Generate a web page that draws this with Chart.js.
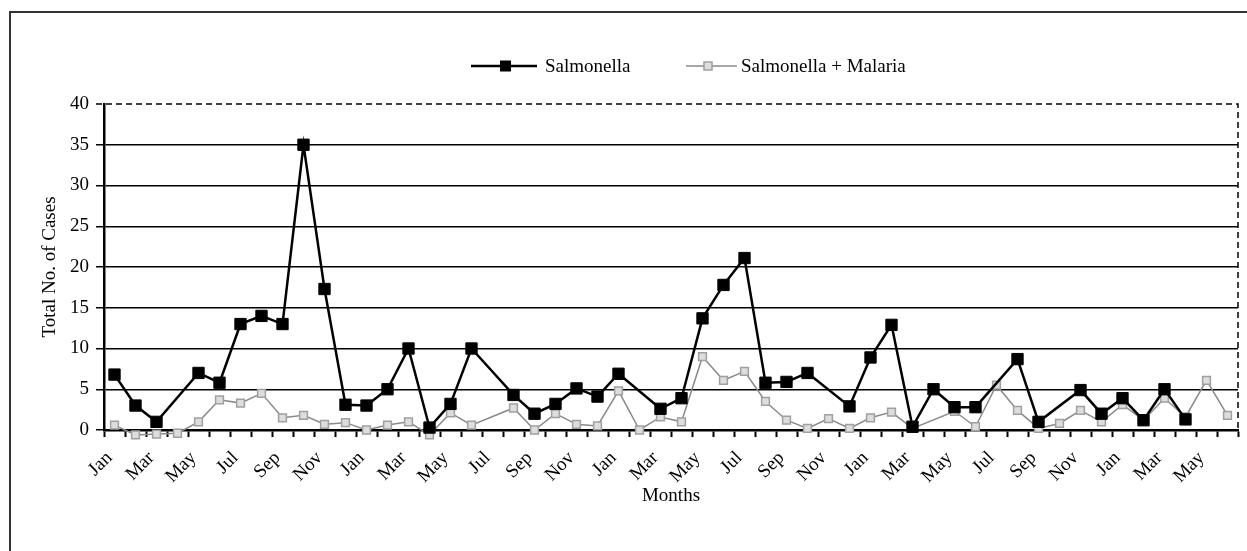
<!DOCTYPE html>
<html>
<head>
<meta charset="utf-8">
<title>Salmonella cases</title>
<script src="https://cdn.jsdelivr.net/npm/chart.js"></script>
<style>
  html, body { margin: 0; padding: 0; background: #fff; }
  #wrap { position: relative; width: 1247px; height: 551px; overflow: hidden; }
  #frame { position: absolute; left: 9px; top: 11px; right: -4px; bottom: -4px;
           border-top: 2px solid #333; border-left: 2px solid #333; pointer-events: none; }
  canvas { position: absolute; left: 0; top: 0; }
</style>
</head>
<body>
<div id="wrap">
  <canvas id="caseChart" width="1247" height="551"></canvas>
  <div id="frame"></div>
</div>
<script>
// months, Jan of year 1 to Jun of year 5
const months = [
  'Jan','Feb','Mar','Apr','May','Jun','Jul','Aug','Sep','Oct','Nov','Dec',
  'Jan','Feb','Mar','Apr','May','Jun','Jul','Aug','Sep','Oct','Nov','Dec',
  'Jan','Feb','Mar','Apr','May','Jun','Jul','Aug','Sep','Oct','Nov','Dec',
  'Jan','Feb','Mar','Apr','May','Jun','Jul','Aug','Sep','Oct','Nov','Dec',
  'Jan','Feb','Mar','Apr','May','Jun'
];

// only every second month gets a label on the axis
const shownMonths = ['Jan','Mar','May','Jul','Sep','Nov'];

const yTicks = [0, 5, 10, 15, 20, 25, 30, 35, 40];

// null = no value that month (line just joins the neighbours)
const salmonella = [
  6.8, 3, 1, null, 7, 5.8, 13, 14, 13, 35, 17.3, 3.1,
  3, 5, 10, 0.3, 3.2, 10, null, 4.3, 2, 3.2, 5.1, 4.1,
  6.9, null, 2.6, 3.9, 13.7, 17.8, 21.1, 5.8, 5.9, 7, null, 2.9,
  8.9, 12.9, 0.4, 5, 2.8, 2.8, null, 8.7, 1, null, 4.9, 2,
  3.9, 1.2, 5, 1.3, null, null
];

const salmonellaMalaria = [
  0.6, -0.6, -0.5, -0.4, 1, 3.7, 3.3, 4.5, 1.5, 1.8, 0.7, 0.9,
  0, 0.6, 1, -0.6, 2.1, 0.6, null, 2.7, 0, 2, 0.7, 0.5,
  4.8, 0, 1.6, 1, 9, 6.1, 7.2, 3.5, 1.2, 0.2, 1.4, 0.2,
  1.5, 2.2, 0.2, null, 2.3, 0.4, 5.5, 2.4, 0.2, 0.8, 2.4, 1,
  3.1, 1.2, 3.9, 1.6, 6.1, 1.8
];

const FONT = 'Liberation Serif';
const greyLine = '#8a8a8a';
const greyPoint = '#a0a0a0';

// dashed top/right frame of the plot and the line+marker legend
const framePlugin = {
    id: 'framePlugin',
    afterDraw(chart) {
        const { ctx, chartArea: a } = chart;
        ctx.save();
        ctx.strokeStyle = '#000';
        ctx.lineWidth = 1.5;
        ctx.setLineDash([6, 4]);
        ctx.beginPath();
        ctx.moveTo(a.left - 8, a.top);
        ctx.lineTo(a.right, a.top);
        ctx.lineTo(a.right, a.bottom);
        ctx.stroke();
        ctx.setLineDash([]);

        const ly = 66;
        // Salmonella
        ctx.strokeStyle = '#000';
        ctx.lineWidth = 2.5;
        ctx.beginPath(); ctx.moveTo(471, ly); ctx.lineTo(537, ly); ctx.stroke();
        ctx.fillStyle = '#000';
        ctx.fillRect(500, ly - 5.5, 11, 11);
        // Salmonella + Malaria
        ctx.strokeStyle = greyLine;
        ctx.lineWidth = 1.5;
        ctx.beginPath(); ctx.moveTo(686, ly); ctx.lineTo(737, ly); ctx.stroke();
        ctx.fillStyle = '#ddd';
        ctx.strokeStyle = greyPoint;
        ctx.fillRect(704, ly - 4, 8, 8);
        ctx.strokeRect(704, ly - 4, 8, 8);

        ctx.fillStyle = '#000';
        ctx.font = `19px "${FONT}"`;
        ctx.textBaseline = 'middle';
        ctx.fillText('Salmonella', 545, ly + 1);
        ctx.fillText('Salmonella + Malaria', 741, ly + 1);
        ctx.restore();
    }
};

const ctx = document.getElementById('caseChart').getContext('2d');
new Chart(ctx, {
    type: 'line',
    data: {
        labels: months,
        datasets: [
            {
                label: 'Salmonella',
                data: salmonella,
                borderColor: '#000',
                backgroundColor: '#000',
                borderWidth: 2.5,
                pointStyle: 'rect',
                pointRadius: 8,
                pointBorderWidth: 1,
                pointBackgroundColor: '#000',
                pointBorderColor: '#000',
                spanGaps: true,
                tension: 0,
                clip: false
            },
            {
                label: 'Salmonella + Malaria',
                data: salmonellaMalaria,
                borderColor: greyLine,
                backgroundColor: '#ddd',
                borderWidth: 1.5,
                pointStyle: 'rect',
                pointRadius: 5.5,
                pointBorderWidth: 1.5,
                pointBackgroundColor: '#ddd',
                pointBorderColor: greyPoint,
                spanGaps: true,
                tension: 0,
                clip: false
            }
        ]
    },
    options: {
        responsive: false,
        animation: false,
        events: [],
        layout: { padding: { left: 10, right: 9, top: 104, bottom: 0 } },
        plugins: {
            legend: { display: false },
            tooltip: { enabled: false }
        },
        scales: {
            x: {
                type: 'category',
                offset: true,
                grid: {
                    offset: true,
                    drawOnChartArea: false,
                    drawTicks: true,
                    tickLength: 7,
                    tickWidth: 2,
                    tickColor: '#000'
                },
                border: { color: '#000', width: 2.5 },
                ticks: {
                    autoSkip: false,
                    maxRotation: 45,
                    minRotation: 45,
                    padding: 10,
                    labelOffset: -5,
                    color: '#000',
                    font: { family: FONT, size: 19 },
                    callback: (v, i) => (shownMonths.includes(months[i]) && i % 2 === 0) ? months[i] : ''
                },
                title: {
                    display: true,
                    text: 'Months',
                    color: '#000',
                    font: { family: FONT, size: 19 },
                    padding: { top: 0, bottom: 44 }
                },
                // fixed box; rotated labels shouldn't push the plot edges in
                afterFit: s => { s.height = 121; s.paddingLeft = 0; s.paddingRight = 0; }
            },
            y: {
                min: yTicks[0],
                max: yTicks[yTicks.length - 1],
                afterBuildTicks: s => { s.ticks = yTicks.map(v => ({ value: v })); },
                grid: {
                    color: c => (c.tick && c.tick.value === 40) ? 'rgba(0,0,0,0)' : '#000',
                    lineWidth: 1.5,
                    tickLength: 8,
                    tickWidth: 1.5,
                    tickColor: c => (c.tick && c.tick.value === 40) ? 'rgba(0,0,0,0)' : '#000'
                },
                border: { color: '#000', width: 2.5 },
                ticks: {
                    padding: 7,
                    color: '#000',
                    font: { family: FONT, size: 19 }
                },
                title: {
                    display: true,
                    text: 'Total No. of Cases',
                    color: '#000',
                    font: { family: FONT, size: 19 },
                    padding: { top: 29, bottom: 0 }
                },
                afterFit: s => { s.width = 94; }
            }
        }
    },
    plugins: [framePlugin]
});
</script>
</body>
</html>
